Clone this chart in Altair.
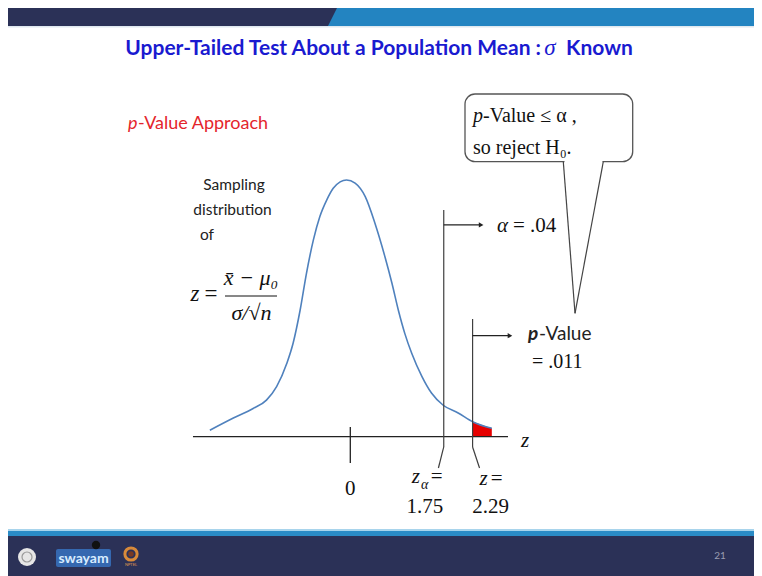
import altair as alt
import pandas as pd

# ---------------- data ----------------
curve_z = [-2.63, -2.19, -1.82, -1.57, -1.38, -1.19, -1.07, -0.94, -0.82, -0.69,
           -0.57, -0.44, -0.32, -0.19, -0.07, 0.09, 0.28, 0.46, 0.65, 0.78,
           0.90, 1.02, 1.15, 1.34, 1.52, 1.74, 2.02, 2.30, 2.65]
curve_d = [0.010, 0.029, 0.044, 0.057, 0.078, 0.114, 0.146, 0.197, 0.255, 0.307,
           0.343, 0.369, 0.387, 0.397, 0.400, 0.395, 0.374, 0.333, 0.280, 0.239,
           0.197, 0.161, 0.130, 0.094, 0.068, 0.049, 0.037, 0.023, 0.013]
tail_z = [2.29, 2.45, 2.65]
tail_d = [0.0236, 0.0185, 0.013]
crit_z = [1.75, 2.29]
crit_text = ["1.75", "2.29"]
center_z = [0]
center_text = ["0"]
alpha_text = "= .04"
pval_text = "= .011"
title_main = "Upper-Tailed Test About a Population Mean :"
title_sigma = "σ"
title_end = "Known"
approach_text = "-Value Approach"
sampling_lines = ["Sampling", "distribution", "of"]
bubble_line1 = "-Value ≤ α ,"
bubble_line2 = "so reject H₀."
page_number = "21"

# ---------------- layout ----------------
W, H = 746, 568
X = alt.Scale(domain=[-6.4101, 7.5599], nice=False, zero=False)
Y = alt.Scale(domain=[-0.21706, 0.6680], nice=False, zero=False)
NAVY = "#2b3157"
BLUE = "#2384c1"
LINE = "#3f3f3f"
one = pd.DataFrame({"k": [0]})
layers = []


def xd(v):
    return alt.XDatum(v, scale=X, axis=None)


def yd(v):
    return alt.YDatum(v, scale=Y, axis=None)


def rect(x, x2, y, y2, color, **kw):
    layers.append(alt.Chart(one).mark_rect(color=color, **kw).encode(
        x=alt.value(x), x2=alt.value(x2), y=alt.value(y), y2=alt.value(y2)))


def seg(x, y, x2, y2, color=LINE, width=1.2):
    layers.append(alt.Chart(one).mark_rule(color=color, strokeWidth=width).encode(
        x=alt.value(x), y=alt.value(y), x2=alt.value(x2), y2=alt.value(y2)))


def text(s, x, y, size, color="#111111", font="Lato", weight="normal",
         style="normal", align="left", dx=0):
    xx = alt.value(x) if isinstance(x, (int, float)) else x
    layers.append(alt.Chart(one).mark_text(
        font=font, fontSize=size, fontWeight=weight, fontStyle=style,
        align=align, baseline="alphabetic", color=color, dx=dx).encode(
        x=xx, y=alt.value(y), text=alt.value(s)))


def dot(x, y, size, color, shape="circle", filled=True, stroke=None, sw=0):
    kw = dict(shape=shape, size=size, filled=filled, opacity=1)
    if filled:
        kw.update(color=color, strokeWidth=sw)
    else:
        kw.update(color=stroke, strokeWidth=sw)
    xx = alt.value(x) if isinstance(x, (int, float)) else x
    yy = alt.value(y) if isinstance(y, (int, float)) else y
    layers.append(alt.Chart(one).mark_point(**kw).encode(x=xx, y=yy))


# ---- slide header bar ----
rect(0, W, 0, 18, BLUE)
rect(0, 320, 0, 18, NAVY)
dot(320, 9, 324, NAVY, shape="M0,-1L1,-1L0,1Z")
rect(0, W, 18, 19.5, "#dfe8ef")

# ---- slide footer ----
rect(0, W, 521, 523, "#a8d4ec")
rect(0, W, 523, 528, "#2a8bc6")
rect(0, W, 528, H, NAVY)
dot(19, 549, 324, "#e6e6e6")
dot(19, 549, 100, None, filled=False, stroke="#9a9a9a", sw=1.2)
rect(48, 103, 541, 559, "#3568b0", cornerRadius=2)
text("swayam", 75.5, 555, 14, color="#d8ecff", weight="bold", align="center")
dot(88, 537, 70, "#111111")
dot(123, 546, 150, None, filled=False, stroke="#d88a3a", sw=3)
dot(123, 546, 30, "#7a3a22")
text("NPTEL", 123, 558, 4, color="#e09a50", align="center")
text(page_number, 712, 551, 10, color="#9a9cb0", align="center")

# ---- titles ----
TBLUE = "#1a1ad0"
text(title_main, 533, 47, 21, color=TBLUE, weight="bold", align="right")
text(title_sigma, 542, 47, 23, color=TBLUE, font="Liberation Serif",
     style="italic", align="center")
text(title_end, 558, 47, 21, color=TBLUE, weight="bold")
RED = "#e4252c"
text("p", 120, 121, 18, color=RED, style="italic")
text(approach_text, 130, 121, 18, color=RED)

# ---- "Sampling distribution of z = ..." ----
text(sampling_lines[0], 226, 182, 15.5, color="#222222", align="center")
text(sampling_lines[1], 224.5, 207, 15.5, color="#222222", align="center")
text(sampling_lines[2], 192, 232, 15.5, color="#222222")
SERIF = "Liberation Serif"
text("z", 187, 293, 23, font=SERIF, style="italic", align="center")
text("=", 203, 293, 23, font=SERIF, align="center")
text("x̄ − μ₀", 243, 277, 22, font=SERIF, style="italic", align="center")
seg(217, 288, 269, 288, color="#111111", width=1)
text("σ/√n", 243.5, 312, 22, font=SERIF, style="italic", align="center")

# ---- curve, tail, axis ----
curve_df = pd.DataFrame({"z": curve_z, "d": curve_d})
tail_df = pd.DataFrame({"z": tail_z, "d": tail_d})
layers.append(alt.Chart(tail_df).mark_area(color="#e60000", opacity=1).encode(
    x=alt.X("z:Q", scale=X, axis=None), y=alt.Y("d:Q", scale=Y, axis=None),
    y2=alt.datum(0)))
layers.append(alt.Chart(curve_df).mark_line(
    color="#4f81bd", strokeWidth=1.6, interpolate="monotone").encode(
    x=alt.X("z:Q", scale=X, axis=None), y=alt.Y("d:Q", scale=Y, axis=None)))

# axis line and tick at 0
layers.append(alt.Chart(one).mark_rule(color="#222222", strokeWidth=1.3).encode(
    x=xd(-2.946), x2=alt.datum(2.953), y=yd(0)))
layers.append(alt.Chart(one).mark_rule(color="#222222", strokeWidth=1.3).encode(
    x=xd(center_z[0]), y=yd(0.0151), y2=alt.datum(-0.041)))
text(center_text[0], xd(center_z[0]), 487, 21, font=SERIF, align="center")
text("z", 517, 439, 21, font=SERIF, style="italic", align="center")

# critical-value lines with bent leaders
tops = [0.3533, 0.1834]
bends = [-0.10, 0.13]
for zc, top, bend in zip(crit_z, tops, bends):
    layers.append(alt.Chart(one).mark_rule(color=LINE, strokeWidth=1.2).encode(
        x=xd(zc), y=yd(top), y2=alt.datum(-0.016)))
    layers.append(alt.Chart(one).mark_rule(color=LINE, strokeWidth=1.2).encode(
        x=xd(zc), x2=alt.datum(zc + bend), y=yd(-0.016), y2=alt.datum(-0.0488)))

# arrows to alpha and p-value labels
arrow_y = [0.330, 0.1574]
for zc, ay in zip(crit_z, arrow_y):
    layers.append(alt.Chart(one).mark_rule(color="#222222", strokeWidth=1.2).encode(
        x=xd(zc), x2=alt.datum(zc + 0.70), y=yd(ay)))
    dot(xd(zc + 0.70), yd(ay), 28, "#222222", shape="triangle-right")

text("α", 489, 224, 21, font=SERIF, style="italic")
text(alpha_text, 505, 224, 21, font=SERIF)
text("p", 520, 332, 19, style="italic", weight="bold", color="#222222")
text("-Value", 531, 332, 19, color="#222222")
text(pval_text, 524, 360, 20, font=SERIF)

# labels under the critical lines
text("z", xd(crit_z[0]), 475, 21, font=SERIF, style="italic", align="center", dx=-28)
text("α", xd(crit_z[0]), 481, 14, font=SERIF, style="italic", align="center", dx=-19)
text("=", xd(crit_z[0]), 475, 21, font=SERIF, align="center", dx=-7)
text(crit_text[0], xd(crit_z[0]), 505, 21, font=SERIF, align="center", dx=-19)
text("z", xd(crit_z[1]), 477, 21, font=SERIF, style="italic", align="center", dx=11)
text("=", xd(crit_z[1]), 477, 21, font=SERIF, align="center", dx=24)
text(crit_text[1], xd(crit_z[1]), 505, 21, font=SERIF, align="center", dx=18)

# ---- callout bubble ----
layers.append(alt.Chart(one).mark_rect(
    fill="white", stroke="#555555", strokeWidth=1.3, cornerRadius=10).encode(
    x=alt.value(457), x2=alt.value(624.7), y=alt.value(86), y2=alt.value(153.7)))
rect(556.5, 594.5, 151.5, 156, "white")
seg(555.3, 153.7, 567, 305.3, color="#444444", width=1.2)
seg(595.3, 153.7, 567, 305.3, color="#444444", width=1.2)
text("p", 465, 113.7, 20, font=SERIF, style="italic")
text(bubble_line1, 475, 113.7, 20, font=SERIF)
text(bubble_line2, 465, 146, 20, font=SERIF)

chart = alt.layer(*layers).properties(
    width=W, height=H, padding=0, background="white",
    autosize=alt.AutoSizeParams(type="fit", contains="padding"),
).configure_view(stroke=None)

chart.save("out.html", embed_options={"renderer": "svg", "actions": False})
